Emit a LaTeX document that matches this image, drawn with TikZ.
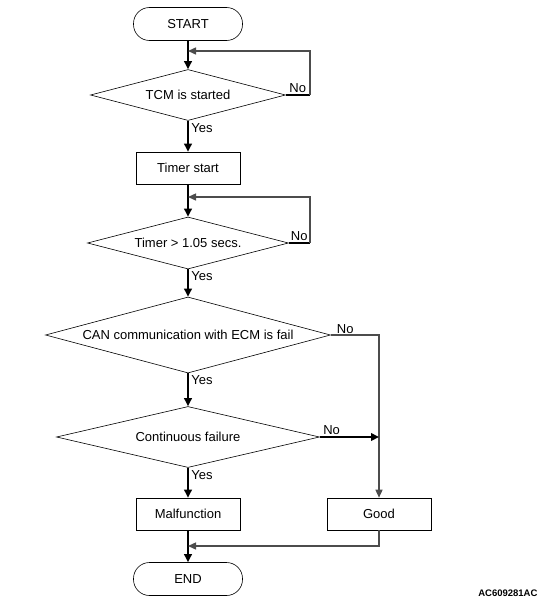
\documentclass[tikz,border=0pt]{standalone}
\usepackage{fontspec}
\setmainfont{Liberation Sans}
\usetikzlibrary{calc,shapes.geometric,arrows.meta}
\def\drawflow{\draw[line width=2.8pt,-{Triangle[length=8pt,width=7.5pt]}]}
\def\drawback{\draw[color=black!70, line width=1.4pt,-{Triangle[length=8pt,width=7pt]}]}
\def\decnode{\node[diamond,draw=black,line width=0.6pt,inner sep=0pt]}
\def\boxnode{\node[rectangle,draw=black,line width=0.6pt,minimum width=104pt,minimum height=32pt]}
\def\termnode{\node[rectangle,rounded corners=16pt,draw=black,line width=0.6pt,minimum width=109pt,minimum height=33pt]}
\tikzset{yeslab/.style={anchor=north west,inner sep=1pt,xshift=1pt,text=black},
  nolab/.style={above,inner sep=1pt,text=black}}

\begin{document}
\begin{tikzpicture}[x=1pt,y=1pt,font=\fontsize{13}{15}\selectfont]
\useasboundingbox (0,0) rectangle (545,-613);
\coordinate (o) at (188,-24); % main axis, nodes are relative to (o)
\termnode (start) at (o) {START};
\decnode[minimum width=195pt,minimum height=51pt,aspect=3.82] (tcm) at ($ (o) + (0,-71) $) {TCM is started};
\boxnode (timer) at ($ (o) + (0,-144) $) {Timer start};
\decnode[minimum width=201pt,minimum height=52pt,aspect=3.87] (timer_up) at ($ (o) + (0,-219) $) {Timer > 1.05 secs.};
\decnode[minimum width=285pt,minimum height=76pt,aspect=3.9] (can) at ($ (o) + (0,-311) $) {CAN communication with ECM is fail};
\decnode[minimum width=263pt,minimum height=61pt,aspect=4.31] (cont) at ($ (o) + (0,-413) $) {Continuous failure};
\boxnode (malf) at ($ (o) + (0,-490) $) {Malfunction};
\boxnode (good) at ($ (o) + (191,-490) $) {Good};
\termnode (finish) at ($ (o) + (0,-555) $) {END};
\node[font=\fontsize{9.5}{11}\selectfont\bfseries,anchor=east] (code) at (541,-593) {AC609281AC};

% Main flow
\drawflow (start) -- (tcm);
\drawflow (tcm) -- node[yeslab,pos=0] {Yes} (timer);
\drawflow (timer) -- (timer_up);
\drawflow (timer_up) -- node[yeslab,pos=0] {Yes} (can);
\drawflow (can) -- node[yeslab,pos=0] {Yes} (cont);
\drawflow (cont) -- node[yeslab,pos=0] {Yes} (malf);
\drawflow (malf) -- (finish);

% Waiting loops
\coordinate (tcm_in) at ($ (o) + (0,-27) $);
\coordinate (tcm_turn) at ($ (tcm.east) + (24,0) $);
\draw[line width=2.4pt] (tcm.east) -- node[nolab] {No} (tcm_turn);
\drawback (tcm_turn) |- (tcm_in);
\coordinate (timer_in) at ($ (o) + (0,-173) $);
\coordinate (timer_turn) at ($ (timer_up.east) + (21,0) $);
\draw[line width=2.4pt] (timer_up.east) -- node[nolab] {No} (timer_turn);
\drawback (timer_turn) |- (timer_in);

% Good branch
\coordinate (can_turn) at (good |- can.east);
\drawback (can.east) -- node[nolab,pos=0.3] {No} (can_turn) -- (good);
\drawflow (cont.east) -- node[nolab,pos=0.2] {No} (cont.east -| good);
\coordinate (merge) at ($ (o) + (0,-522) $);
\drawback (good.south) |- (merge);
\end{tikzpicture}
\end{document}
